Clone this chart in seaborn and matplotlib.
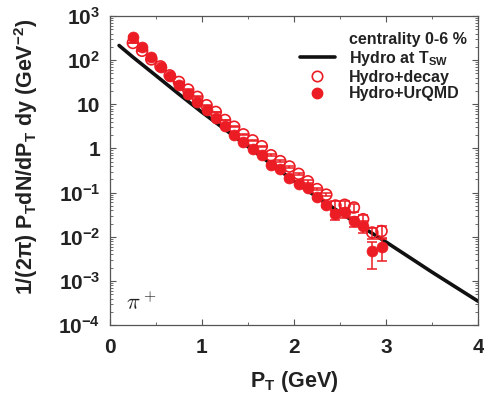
import numpy as np
import pandas as pd
import matplotlib
matplotlib.use("Agg")
import matplotlib.pyplot as plt
import seaborn as sns
from matplotlib.lines import Line2D
from matplotlib.ticker import FixedLocator, LogLocator, NullFormatter, MultipleLocator

# ---------------- data ----------------
pt_points = [0.25, 0.35, 0.45, 0.55, 0.65, 0.75, 0.85, 0.95, 1.05, 1.15,
             1.25, 1.35, 1.45, 1.55, 1.65, 1.75, 1.85, 1.95, 2.05, 2.15,
             2.25, 2.35, 2.45, 2.55, 2.65, 2.75, 2.85, 2.95]
decay_vals = [245, 163, 104, 72, 45, 32, 21.5, 14.7, 9.5, 6.7,
              4.4, 3.1, 2.08, 1.52, 1.12, 0.70, 0.515, 0.39, 0.266, 0.18,
              0.12, 0.09, 0.051, 0.053, 0.046, 0.025, 0.0125, 0.0135]
decay_err = [4, 3, 2, 1.4, 0.9, 0.6, 0.4, 0.3, 0.2, 0.15,
             0.1, 0.08, 0.06, 0.05, 0.04, 0.03, 0.025, 0.02, 0.015, 0.012,
             0.008, 0.007, 0.012, 0.010, 0.010, 0.0055, 0.0035, 0.004]
urqmd_vals = [340, 200, 115, 71, 43, 28, 17.2, 11.2, 7.3, 4.9,
              3.2, 2.0, 1.43, 0.98, 0.72, 0.43, 0.34, 0.22, 0.158, 0.125,
              0.079, 0.052, 0.032, 0.036, 0.0225, 0.0175, 0.0047, 0.0059]
urqmd_err = [4, 3, 2, 1.2, 0.8, 0.5, 0.3, 0.2, 0.15, 0.1,
             0.07, 0.05, 0.04, 0.03, 0.025, 0.02, 0.015, 0.012, 0.01, 0.008,
             0.006, 0.005, 0.008, 0.009, 0.0055, 0.005, 0.0028, 0.003]

pt_line = [0.1, 0.25, 0.5, 0.75, 1.0, 1.25, 1.5, 1.75, 2.0, 2.25,
           2.5, 2.75, 3.0, 3.25, 3.5, 3.75, 4.0]
hydro_vals = [214, 117, 44.7, 17.0, 6.6, 2.7, 1.1, 0.447, 0.182, 0.079,
              0.0355, 0.0162, 0.0076, 0.00347, 0.00158, 0.00074, 0.000347]

y_ticks = [1e-4, 1e-3, 1e-2, 1e-1, 1, 10, 1e2, 1e3]
y_ticklabels = [r"$\mathbf{10^{-4}}$", r"$\mathbf{10^{-3}}$", r"$\mathbf{10^{-2}}$",
                r"$\mathbf{10^{-1}}$", "1", "10", r"$\mathbf{10^{2}}$", r"$\mathbf{10^{3}}$"]
x_ticks = [0, 1, 2, 3, 4]

legend_labels = ["centrality 0-6 %", r"Hydro at T$_{\mathbf{SW}}$", "Hydro+decay", "Hydro+UrQMD"]

# ---------------- style ----------------
sns.set_theme(style="ticks")
plt.rcParams["font.family"] = ["Liberation Sans", "DejaVu Sans"]
plt.rcParams["font.weight"] = "bold"
plt.rcParams["mathtext.fontset"] = "custom"
plt.rcParams["mathtext.rm"] = "Liberation Sans:bold"
plt.rcParams["mathtext.bf"] = "Liberation Sans:bold"
plt.rcParams["mathtext.it"] = "Liberation Sans:bold:italic"
plt.rcParams["mathtext.default"] = "bf"

RED = "#ec1c24"

fig = plt.figure(figsize=(4.84, 3.98), dpi=100)
ax = fig.add_axes([0.227, 0.183, 0.761, 0.777])

df_line = pd.DataFrame({"pt": pt_line, "y": hydro_vals})
df_pts = pd.DataFrame({"pt": pt_points, "decay": decay_vals, "urqmd": urqmd_vals})

sns.lineplot(data=df_line, x="pt", y="y", ax=ax, color="#111111", lw=2.6, zorder=2)

ax.errorbar(pt_points, decay_vals, yerr=decay_err, fmt="none", ecolor=RED,
            elinewidth=1.1, capsize=3.5, capthick=1.1, zorder=3)
ax.errorbar(pt_points, urqmd_vals, yerr=urqmd_err, fmt="none", ecolor=RED,
            elinewidth=1.1, capsize=3.5, capthick=1.1, zorder=3)
sns.scatterplot(data=df_pts, x="pt", y="decay", ax=ax, s=62, marker="o",
                facecolor="none", edgecolor=RED, linewidth=1.2, zorder=4)
sns.scatterplot(data=df_pts, x="pt", y="urqmd", ax=ax, s=62, marker="o",
                color=RED, edgecolor=RED, linewidth=0.5, zorder=5)

ax.set_yscale("log")
ax.set_xlim(0, 4)
ax.set_ylim(1e-4, 1e3)
ax.yaxis.set_major_locator(FixedLocator(y_ticks))
ax.set_yticklabels(y_ticklabels)
ax.yaxis.set_minor_locator(LogLocator(base=10, subs=np.arange(2, 10)))
ax.yaxis.set_minor_formatter(NullFormatter())
ax.set_xticks(x_ticks)
ax.set_xticklabels([str(t) for t in x_ticks])
ax.xaxis.set_minor_locator(MultipleLocator(0.5))

ax.tick_params(which="both", direction="in", top=True, right=True,
               colors="#555555", labelcolor="#222222")
ax.tick_params(which="major", length=4, width=0.8, labelsize=15)
ax.tick_params(axis="x", which="major", pad=9)
ax.tick_params(axis="y", which="major", pad=7)
ax.tick_params(which="minor", length=2, width=0.6)
for lab in ax.get_xticklabels() + ax.get_yticklabels():
    lab.set_fontweight("bold")
for s in ax.spines.values():
    s.set_color("#555555")
    s.set_linewidth(0.9)

ax.set_xlabel(r"P$_{\mathbf{T}}$ (GeV)", fontsize=15.5, fontweight="bold", color="#222222", labelpad=9)
ax.set_ylabel(r"1/(2$\pi$) P$_{\mathbf{T}}$dN/dP$_{\mathbf{T}}$ dy (GeV$^{\mathbf{-2}}$)",
              fontsize=15.5, fontweight="bold", color="#222222")
ax.yaxis.set_label_coords(-0.19, 0.545)

ax.text(0.045, 0.05, r"$\pi^+$", transform=ax.transAxes, fontsize=16,
        math_fontfamily="cm", color="#222222")

handles = [
    Line2D([], [], color="none"),
    Line2D([], [], color="#111111", lw=2.6),
    Line2D([], [], ls="none", marker="o", ms=7.5, mfc="none", mec=RED, mew=1.2),
    Line2D([], [], ls="none", marker="o", ms=7.5, mfc=RED, mec=RED),
]
leg = ax.legend(handles, legend_labels, loc="upper right", bbox_to_anchor=(1.0, 0.985),
                frameon=False, fontsize=11.5, handlelength=2.2, handletextpad=0.9,
                labelspacing=0.12, borderaxespad=0.3)
for t in leg.get_texts():
    t.set_fontweight("bold")
    t.set_color("#222222")

fig.savefig("out.png", dpi=100)
